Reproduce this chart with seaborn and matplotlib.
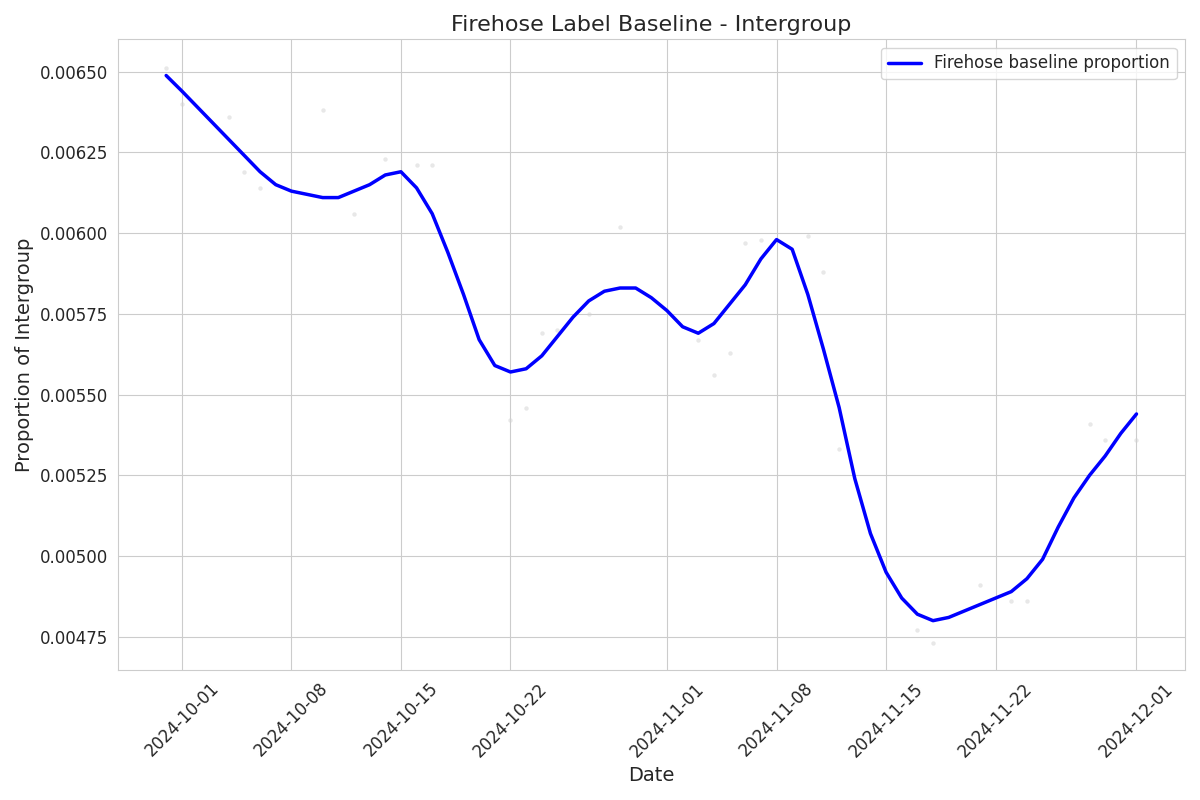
import matplotlib
matplotlib.use("Agg")
import matplotlib.pyplot as plt
import seaborn as sns
import pandas as pd

# Smoothed daily baseline, 2024-09-30 .. 2024-12-01
dates = pd.date_range("2024-09-30", "2024-12-01", freq="D")
baseline = [
    0.006488, 0.00644, 0.00639, 0.00634, 0.00629, 0.00624, 0.00619, 0.00615,
    0.00613, 0.00612, 0.00611, 0.00611, 0.00613, 0.00615, 0.00618, 0.00619,
    0.00614, 0.00606, 0.00594, 0.00581, 0.00567, 0.00559, 0.00557, 0.00558,
    0.00562, 0.00568, 0.00574, 0.00579, 0.00582, 0.00583, 0.00583, 0.00580,
    0.00576, 0.00571, 0.00569, 0.00572, 0.00578, 0.00584, 0.00592, 0.00598,
    0.00595, 0.00581, 0.00564, 0.00546, 0.00524, 0.00507, 0.00495, 0.00487,
    0.00482, 0.00480, 0.00481, 0.00483, 0.00485, 0.00487, 0.00489, 0.00493,
    0.00499, 0.00509, 0.00518, 0.00525, 0.00531, 0.00538, 0.00544,
]

# Faint raw observations (day offset from 2024-09-30, value)
raw_days = [0, 1, 4, 5, 6, 10, 12, 14, 16, 17, 22, 23, 24, 25, 27, 29,
            34, 35, 36, 37, 38, 41, 42, 43, 48, 49, 52, 54, 55, 59, 60, 62]
raw_vals = [0.00651, 0.00640, 0.00636, 0.00619, 0.00614, 0.00638, 0.00606,
            0.00623, 0.00621, 0.00621, 0.00542, 0.00546, 0.00569, 0.00570,
            0.00575, 0.00602, 0.00567, 0.00556, 0.00563, 0.00597, 0.00598,
            0.00599, 0.00588, 0.00533, 0.00477, 0.00473, 0.00491, 0.00486,
            0.00486, 0.00541, 0.00536, 0.00536]

df = pd.DataFrame({"date": dates, "baseline": baseline})
raw = pd.DataFrame({"date": dates[raw_days], "value": raw_vals})

sns.set_style("whitegrid")
fig, ax = plt.subplots(figsize=(12, 8), dpi=100)
sns.scatterplot(data=raw, x="date", y="value", color="lightgrey", s=8,
                alpha=0.5, edgecolor=None, ax=ax)
sns.lineplot(data=df, x="date", y="baseline", color="blue", linewidth=2.5,
             label="Firehose baseline proportion", ax=ax)

ax.set_title("Firehose Label Baseline - Intergroup", fontsize=16)
ax.set_xlabel("Date", fontsize=14)
ax.set_ylabel("Proportion of Intergroup", fontsize=14)
ax.set_xticks(pd.to_datetime(["2024-10-01", "2024-10-08", "2024-10-15", "2024-10-22",
                              "2024-11-01", "2024-11-08", "2024-11-15", "2024-11-22",
                              "2024-12-01"]))
ax.xaxis.set_major_formatter(matplotlib.dates.DateFormatter("%Y-%m-%d"))
ax.set_yticks([0.00475, 0.005, 0.00525, 0.0055, 0.00575, 0.006, 0.00625, 0.0065])
ax.yaxis.set_major_formatter(matplotlib.ticker.FormatStrFormatter("%.5f"))
ax.set_ylim(0.004648, 0.006600)
ax.tick_params(labelsize=12)
plt.xticks(rotation=45)
ax.legend(loc="upper right", fontsize=12)
plt.tight_layout()
plt.savefig("out.png")
